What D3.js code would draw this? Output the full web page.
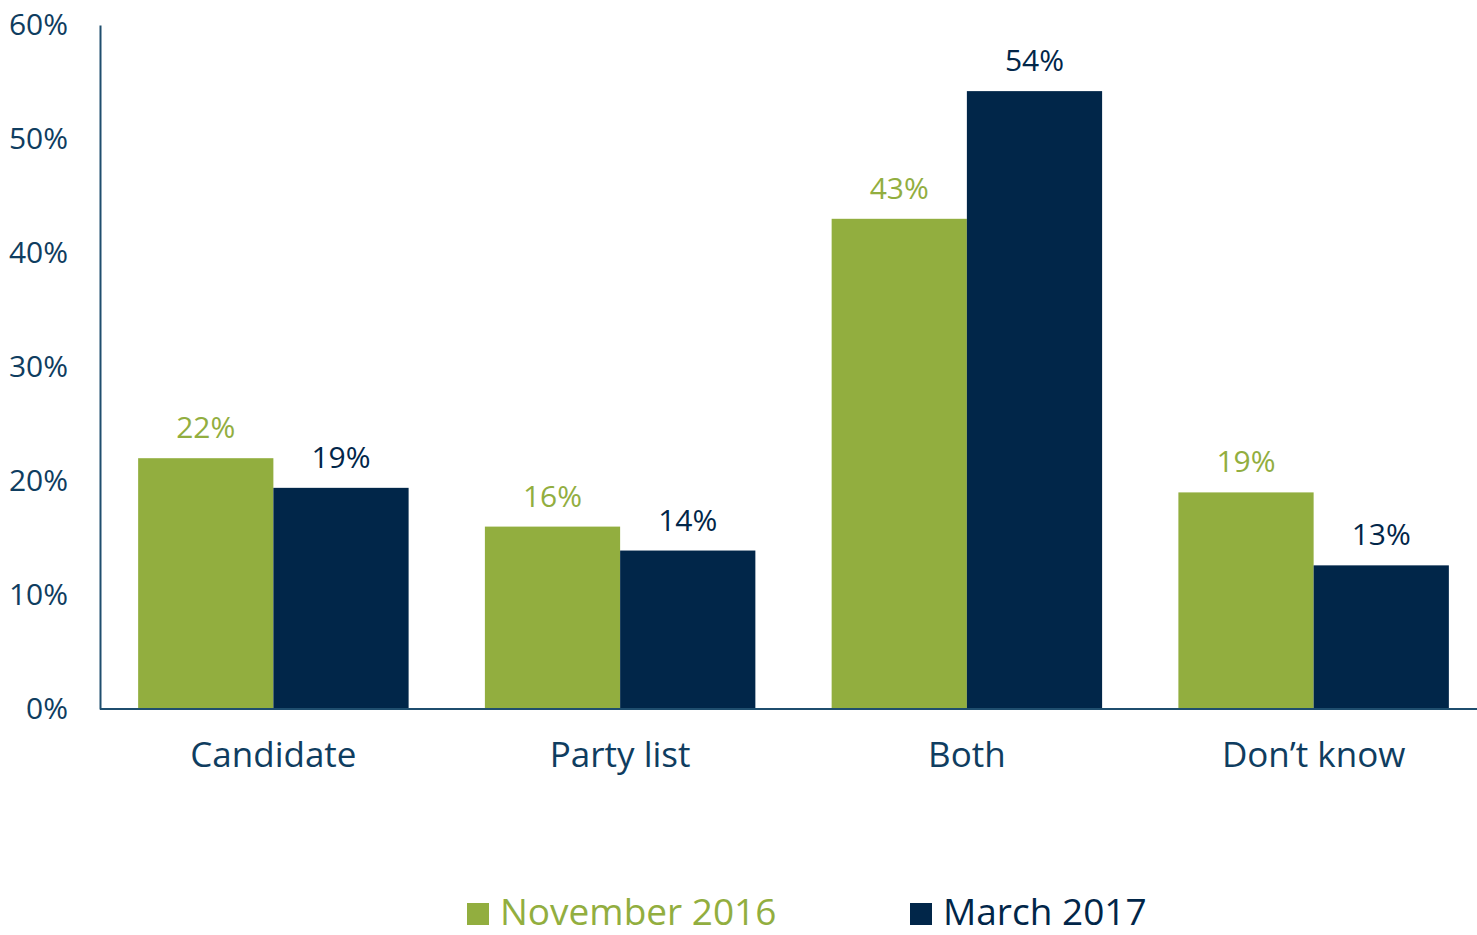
<!DOCTYPE html>
<html>
<head>
<meta charset="utf-8">
<script src="https://cdn.jsdelivr.net/npm/d3@7"></script>
<style>
  body { margin: 0; background: #fff; }
  svg { display: block; }
  text { font-family: "Open Sans", "Noto Sans", sans-serif; }
</style>
</head>
<body>
<div id="chart"></div>
<script>
/*------------------- Data -------------------*/
const categories = ["Candidate", "Party list", "Both", "Don\u2019t know"];
const series = ["November 2016", "March 2017"];
const nov2016 = [22, 16, 43, 19];
const mar2017 = [19.4, 13.9, 54.2, 12.6];
const yTicks = [0, 10, 20, 30, 40, 50, 60];

const colors = { "November 2016": "#92ae3f", "March 2017": "#012649" };
const axisColor = "#1f4e6e";
const textColor = "#0f3d60";

/*------------------- Setup -------------------*/
const width = 1477, height = 935;
const margin = { left: 100, top: 25, bottom: 226 };

const svg = d3.select("#chart").append("svg")
    .attr("width", width)
    .attr("height", height);

const rows = categories.map((c, i) => ({
    cat: c,
    values: [
        { key: series[0], value: nov2016[i] },
        { key: series[1], value: mar2017[i] }
    ]
}));

const x0 = d3.scaleBand()
    .domain(categories)
    .range([margin.left, 1487])
    .paddingInner(0.22)
    .paddingOuter(0.11);

const x1 = d3.scaleBand()
    .domain(series)
    .range([0, x0.bandwidth()]);

const y = d3.scaleLinear()
    .domain([0, 60])
    .range([height - margin.bottom, margin.top]);

/*------------------- Bars -------------------*/
const groups = svg.selectAll("g.group")
    .data(rows)
    .join("g")
    .attr("class", "group")
    .attr("transform", d => `translate(${x0(d.cat)},0)`);

groups.selectAll("rect")
    .data(d => d.values)
    .join("rect")
    .attr("x", d => x1(d.key))
    .attr("y", d => y(d.value))
    .attr("width", x1.bandwidth())
    .attr("height", d => y(0) - y(d.value))
    .attr("fill", d => colors[d.key]);

groups.selectAll("text.label")
    .data(d => d.values)
    .join("text")
    .attr("class", "label")
    .attr("x", d => x1(d.key) + x1.bandwidth() / 2)
    .attr("y", d => y(d.value) - 20)
    .attr("text-anchor", "middle")
    .attr("font-size", 30)
    .attr("fill", d => colors[d.key])
    .text(d => Math.round(d.value) + "%");

/*------------------- Axes -------------------*/
const yAxis = svg.append("g")
    .attr("transform", `translate(${margin.left},0)`)
    .call(d3.axisLeft(y).tickValues(yTicks).tickSize(0).tickPadding(32).tickFormat(d => d + "%"));
yAxis.select(".domain").attr("stroke", axisColor).attr("stroke-width", 2);
yAxis.selectAll("text")
    .attr("font-size", 30)
    .attr("fill", textColor)
    .attr("font-family", "'Open Sans', sans-serif");

const xAxis = svg.append("g")
    .attr("transform", `translate(0,${y(0)})`)
    .call(d3.axisBottom(x0).tickSize(0).tickPadding(0));
xAxis.select(".domain")
    .attr("d", `M${margin.left},0H${width}`)
    .attr("stroke", axisColor)
    .attr("stroke-width", 2);
xAxis.selectAll("text")
    .attr("dy", null)
    .attr("y", 58)
    .attr("font-size", 35)
    .attr("fill", textColor)
    .attr("font-family", "'Open Sans', sans-serif");

/*------------------- Legend -------------------*/
const legendX = [467, 910];
const legend = svg.selectAll("g.legend")
    .data(series)
    .join("g")
    .attr("class", "legend")
    .attr("transform", (d, i) => `translate(${legendX[i]},903)`);

legend.append("rect")
    .attr("width", 22)
    .attr("height", 22)
    .attr("fill", d => colors[d]);

legend.append("text")
    .attr("x", 33)
    .attr("y", 22)
    .attr("font-size", 37)
    .attr("fill", d => colors[d])
    .text(d => d);
</script>
</body>
</html>
